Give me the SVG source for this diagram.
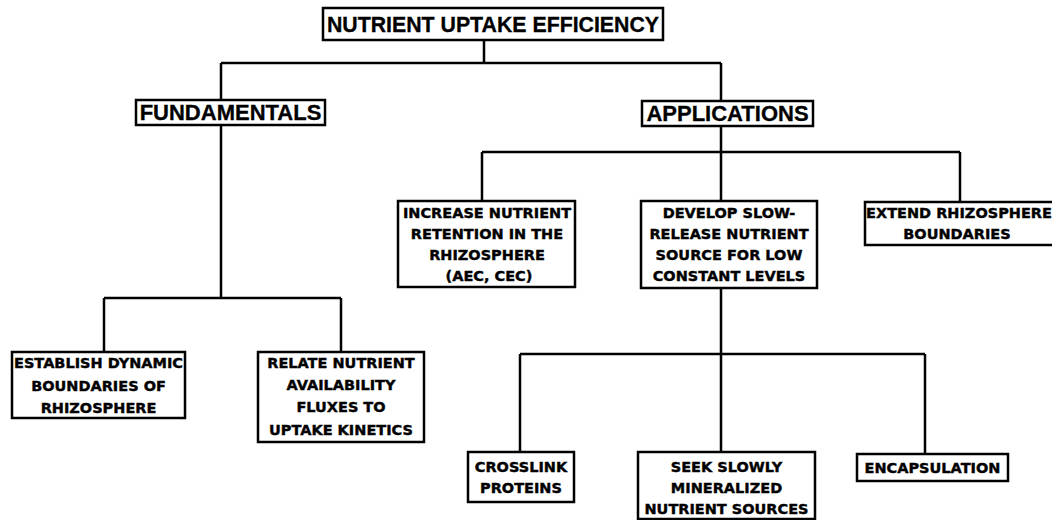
<svg xmlns="http://www.w3.org/2000/svg" width="1052" height="520" viewBox="0 0 1052 520">
<style>
.box{fill:#fff;stroke:#000;stroke-width:2.5}
.ln{fill:none;stroke:#000;stroke-width:2.5}
text{font-weight:bold;fill:#000;text-anchor:middle}
.big{font-family:"Liberation Sans",Arial,sans-serif;font-size:22px;stroke:#000;stroke-width:0.3}
.sm{font-family:"DejaVu Sans","Liberation Sans",sans-serif;font-size:14.5px;stroke:#000;stroke-width:0.4}
</style>
<rect width="1052" height="520" fill="#fff"/>
<g id="connectors">
<path class="ln" d="M484 40V63M221 63H721M221 63V100M721 63V101"/>
<path class="ln" d="M221 125V298M104 298H341M104 298V352M341 298V352"/>
<path class="ln" d="M721 126V152M482 152H960M482 152V201M721 152V201M960 152V202"/>
<path class="ln" d="M721 288V354M520 354H925M520 354V452M721 354V452M925 354V454"/>
</g>
<g id="n-root"><rect class="box" x="323" y="8" width="340" height="32"/><text class="big" x="493" y="32" style="font-size:21.3px">NUTRIENT UPTAKE EFFICIENCY</text></g>
<g id="n-fund"><rect class="box" x="136" y="100" width="189" height="25"/><text class="big" x="230.5" y="120">FUNDAMENTALS</text></g>
<g id="n-app"><rect class="box" x="642" y="101" width="171" height="25"/><text class="big" x="727.5" y="121">APPLICATIONS</text></g>
<g id="n-increase"><rect class="box" x="398" y="201" width="177" height="86"/>
<text class="sm" x="487" y="218">INCREASE NUTRIENT</text><text class="sm" x="487" y="239">RETENTION IN THE</text><text class="sm" x="487" y="260">RHIZOSPHERE</text><text class="sm" x="489" y="281">(AEC, CEC)</text></g>
<g id="n-develop"><rect class="box" x="641" y="201" width="176" height="87"/>
<text class="sm" x="729" y="218">DEVELOP SLOW-</text><text class="sm" x="729" y="239">RELEASE NUTRIENT</text><text class="sm" x="729" y="260">SOURCE FOR LOW</text><text class="sm" x="729" y="281">CONSTANT LEVELS</text></g>
<g id="n-extend"><rect class="box" x="865" y="202" width="195" height="43"/>
<text class="sm" x="959" y="218">EXTEND RHIZOSPHERE</text><text class="sm" x="957" y="239">BOUNDARIES</text></g>
<g id="n-establish"><rect class="box" x="12" y="352" width="173" height="66"/>
<text class="sm" x="98.5" y="368">ESTABLISH DYNAMIC</text><text class="sm" x="98.5" y="391">BOUNDARIES OF</text><text class="sm" x="98.5" y="413">RHIZOSPHERE</text></g>
<g id="n-relate"><rect class="box" x="258" y="352" width="166" height="90"/>
<text class="sm" x="341" y="368">RELATE NUTRIENT</text><text class="sm" x="341" y="390">AVAILABILITY</text><text class="sm" x="341" y="412">FLUXES TO</text><text class="sm" x="341" y="435">UPTAKE KINETICS</text></g>
<g id="n-crosslink"><rect class="box" x="468" y="452" width="106" height="50"/>
<text class="sm" x="521" y="472">CROSSLINK</text><text class="sm" x="521" y="493">PROTEINS</text></g>
<g id="n-seek"><rect class="box" x="638" y="452" width="177" height="67"/>
<text class="sm" x="726.5" y="472">SEEK SLOWLY</text><text class="sm" x="726.5" y="493">MINERALIZED</text><text class="sm" x="726.5" y="514">NUTRIENT SOURCES</text></g>
<g id="n-encap"><rect class="box" x="857" y="454" width="151" height="27"/>
<text class="sm" x="932.5" y="473">ENCAPSULATION</text></g>
</svg>
